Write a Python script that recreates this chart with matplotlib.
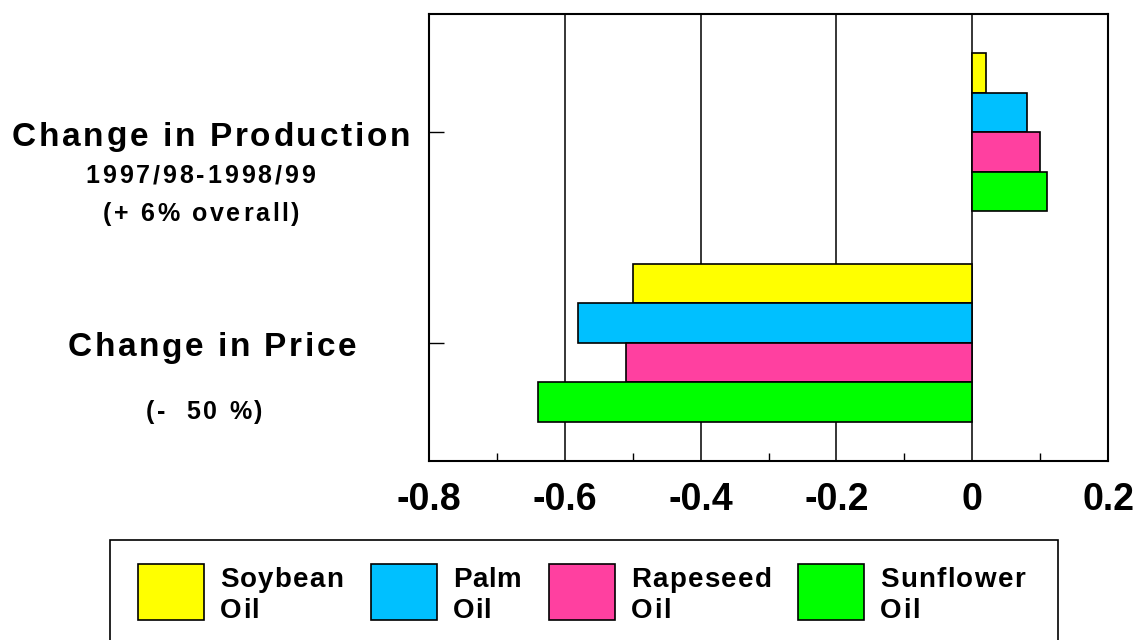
"""
oil_price_production.py — vegetable oil production vs price change, horizontal bars.
"""
import numpy as np
import matplotlib
matplotlib.use('Agg')
import matplotlib.pyplot as plt
from matplotlib.patches import Rectangle
from matplotlib.font_manager import FontProperties

plt.rcParams.update({
    'font.family': ['Liberation Sans', 'DejaVu Sans'],
    'font.weight': 'bold',
})

# --- data ---
categories = ['Change in Production', 'Change in Price']
oils = ['Soybean\nOil', 'Palm\nOil', 'Rapeseed\nOil', 'Sunflower\nOil']
production = [0.02, 0.08, 0.10, 0.11]
price = [-0.50, -0.58, -0.51, -0.64]
x_ticks = [-0.8, -0.6, -0.4, -0.2, 0, 0.2]
x_tick_labels = ['-0.8', '-0.6', '-0.4', '-0.2', '0', '0.2']

_COLORS = ['#FFFF00', '#00C0FF', '#FF40A0', '#00FF00']
_BAR_H = 0.187

W, H = 1136, 640
fig = plt.figure(figsize=(W / 100, H / 100), dpi=100)
ax = fig.add_axes([429 / W, 1 - 461 / H, (1108 - 429) / W, (461 - 14) / H])
_R = fig.canvas.get_renderer()

values = np.array([production, price])   # (category, oil)
y_cat = np.arange(len(categories))
offsets = (np.arange(len(oils)) - 1.5) * _BAR_H
for j, oil in enumerate(oils):
    ax.barh(y_cat + offsets[j], values[:, j], height=_BAR_H,
            color=_COLORS[j], edgecolor='black', linewidth=1.2, zorder=3)

# gridlines (solid black verticals)
for xv in [-0.6, -0.4, -0.2, 0]:
    ax.axvline(xv, color='black', lw=1.1, zorder=2)

ax.set_xlim(-0.8, 0.2)
ax.set_ylim(1.56, -0.56)
ax.set_xticks(x_ticks)
ax.set_xticklabels(x_tick_labels, fontsize=27, fontweight='bold')
ax.set_xticks([-0.7, -0.5, -0.3, -0.1, 0.1], minor=True)
ax.tick_params(axis='x', which='major', length=0, pad=15)
ax.tick_params(axis='x', which='minor', direction='in', length=6, width=1)
ax.set_yticks(y_cat)
ax.set_yticklabels([])
ax.tick_params(axis='y', direction='in', length=11, width=1)
for s in ax.spines.values():
    s.set_linewidth(1.5)


def _prefix_px(s, prop):
    """각 글자의 시작 x(px). 공백 폭 때문에 'I' sentinel 로 측정."""
    ref = _R.get_text_width_height_descent('I', prop, ismath=False)[0]
    out = []
    for i in range(len(s)):
        w = _R.get_text_width_height_descent(s[:i] + 'I', prop, ismath=False)[0]
        out.append(w - ref if i else 0.0)
    full = _R.get_text_width_height_descent(s, prop, ismath=False)[0]
    return out, full


def tracked(x, y, s, size, width=None, track=None, ha='center'):
    """letter-spacing 이 있는 텍스트 (픽셀 좌표, y 는 위에서부터). 사용한 tracking 반환."""
    prop = FontProperties(family=['Liberation Sans', 'DejaVu Sans'],
                          weight='bold', size=size)
    pos, full = _prefix_px(s, prop)
    if track is None:
        track = (width - full) / max(len(s) - 1, 1)
    total = full + track * (len(s) - 1)
    x0 = x - total / 2 if ha == 'center' else x
    for i, c in enumerate(s):
        if c == ' ':
            continue
        fig.text((x0 + pos[i] + i * track) / W, 1 - y / H, c, ha='left',
                 va='center', fontproperties=prop)
    return track


# category labels left of the axes
tracked(211, 137, 'Change in Production', 24, width=398)
tracked(200, 176, '1997/98-1998/99', 18, width=230)
tracked(201, 214, '(+ 6% overall)', 18, width=197)
tracked(212, 348, 'Change in Price', 24, width=288)
tracked(204, 412, '(-  50 %)', 18, width=116)

# legend box drawn by hand
fig.patches.append(Rectangle((110 / W, -0.05), (1058 - 110) / W, 0.05 + 1 - 540 / H,
                             transform=fig.transFigure, facecolor='white',
                             edgecolor='black', lw=1.2))
patch_x = [138, 371, 549, 798]
text_x = [220, 453, 631, 880]
name_w = [123, 68, 141, 145]
for j, oil in enumerate(oils):
    fig.patches.append(Rectangle((patch_x[j] / W, 1 - 620 / H), 66 / W, 56 / H,
                                 transform=fig.transFigure, facecolor=_COLORS[j],
                                 edgecolor='black', lw=1.2))
    first, second = oil.split('\n')
    tr = tracked(text_x[j], 580, first, 20, width=name_w[j], ha='left')
    tracked(text_x[j], 611, second, 20, track=tr, ha='left')

fig.savefig('out.png', dpi=100)
